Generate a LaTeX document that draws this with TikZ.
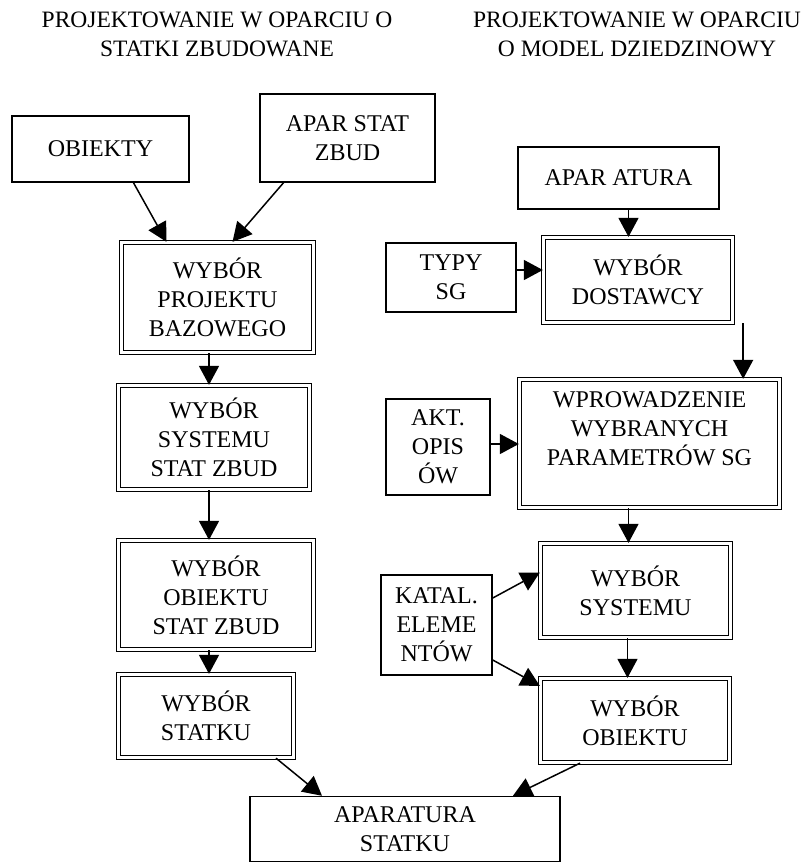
\documentclass[tikz,border=0pt]{standalone}
\usepackage{fontspec}
\setmainfont{Liberation Serif}
\usetikzlibrary{arrows.meta,positioning}

\begin{document}
\begin{tikzpicture}[x=1pt,y=-1pt,
  box/.style={draw,line width=1.5pt,align=center,inner sep=0pt,font=\fontsize{24}{29}\selectfont},
  dbox/.style={box,double,double distance=2.6pt,line width=1.3pt},
  head/.style={align=center,font=\fontsize{23.5}{29}\selectfont},
  arr/.style={-{Triangle[length=19pt,width=20pt]},line width=1.5pt}]
\useasboundingbox (0,0) rectangle (804,868);
\node[head] (tl) at (217,34) {PROJEKTOWANIE W OPARCIU O\\STATKI ZBUDOWANE};
\node[head] (tr) at (637,34) {PROJEKTOWANIE W OPARCIU\\O MODEL DZIEDZINOWY};
\node[box,minimum width=177,minimum height=66] (obiekty) at (100.5,149) {OBIEKTY};
\node[box,minimum width=175,minimum height=88] (aparstat) at (347.5,138) {APAR STAT\\ZBUD};
\node[dbox,minimum width=192,minimum height=110] (projekt) at (217.5,297.5) {WYBÓR\\PROJEKTU\\BAZOWEGO};
\node[dbox,minimum width=191,minimum height=104] (systemL) at (214,437.5) {WYBÓR\\SYSTEMU\\STAT ZBUD};
\node[dbox,minimum width=195,minimum height=109] (obiektL) at (216,595) {WYBÓR\\OBIEKTU\\STAT ZBUD};
\node[dbox,minimum width=175,minimum height=83] (statku) at (206,716) {WYBÓR\\STATKU};
\node[box,minimum width=310,minimum height=65] (aparL) at (405,829) {APARATURA\\STATKU};
\node[box,minimum width=201,minimum height=62] (aparatura) at (618.5,178) {APAR ATURA};
\node[dbox,minimum width=189,minimum height=85] (dostawcy) at (638,280) {WYBÓR\\DOSTAWCY};
\node[box,minimum width=130,minimum height=69] (typy) at (451,277.5) {TYPY\\SG};
\node[dbox,minimum width=260,minimum height=128] (wprow) at (649.5,443.5) {WPROWADZENIE\\WYBRANYCH\\PARAMETRÓW SG\\ };
\node[box,minimum width=104,minimum height=96] (akt) at (438,447) {AKT.\\OPIS\\ÓW};
\node[dbox,minimum width=190,minimum height=94] (systemR) at (635.5,590.5) {WYBÓR\\SYSTEMU};
\node[box,minimum width=111,minimum height=100] (katal) at (436.5,625) {KATAL.\\ELEME\\NTÓW};
\node[dbox,minimum width=189,minimum height=84] (obiektR) at (635,720.5) {WYBÓR\\OBIEKTU};
\draw[arr] ([xshift=33]obiekty.south) -- ([xshift=-51]projekt.north);
\draw[arr] ([xshift=-64]aparstat.south) -- ([xshift=15]projekt.north);
\draw[arr] ([xshift=-8.5]projekt.south) -- ([xshift=-8.5]projekt.south |- systemL.north);
\draw[arr] ([xshift=-5]systemL.south) -- ([xshift=-5]systemL.south |- obiektL.north);
\draw[arr] ([xshift=-7]obiektL.south) -- ([xshift=-7]obiektL.south |- statku.north);
\draw[arr] ([xshift=70]statku.south) -- ([xshift=-83]aparL.north);
\draw[arr] ([xshift=-55]obiektR.south) -- ([xshift=108]aparL.north);
\draw[arr] ([xshift=10]aparatura.south) -- ([xshift=10]aparatura.south |- dostawcy.north);
\draw[arr] ([yshift=7.5]typy.east) -- ([yshift=7.5]typy.east -| dostawcy.west);
\draw[arr] ([xshift=10]dostawcy.south east) -- ([xshift=10]dostawcy.south east |- wprow.north);
\draw[arr] ([yshift=3]akt.east) -- ([yshift=3]akt.east -| wprow.west);
\draw[arr] ([xshift=-21]wprow.south) -- ([xshift=-21]wprow.south |- systemR.north);
\draw[arr] ([yshift=27]katal.east) -- ([yshift=18]systemR.west);
\draw[arr] ([yshift=-35]katal.east) -- ([yshift=-8]obiektR.north west);
\draw[arr] ([xshift=-8]systemR.south) -- ([xshift=-8]systemR.south |- obiektR.north);
\end{tikzpicture}
\end{document}
